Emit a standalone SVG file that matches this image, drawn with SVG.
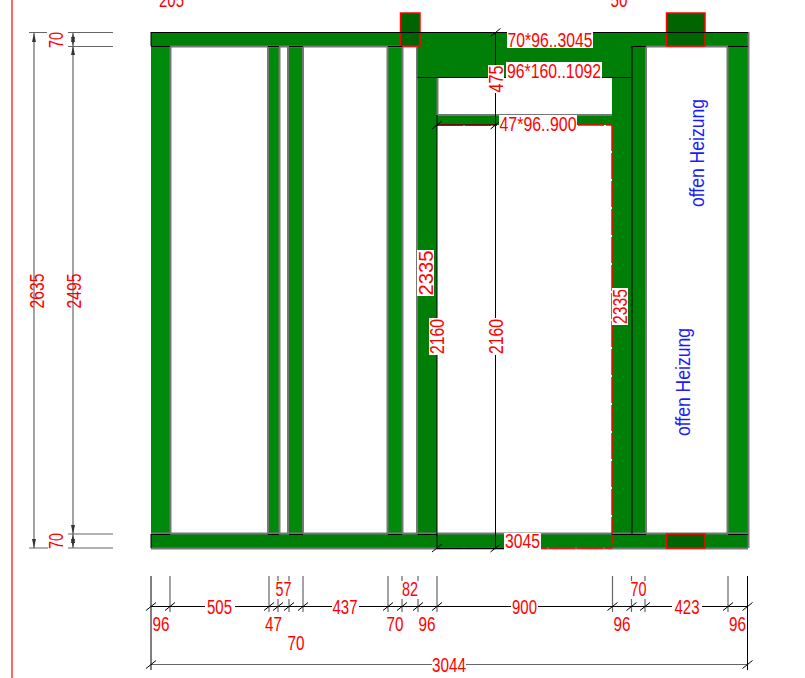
<svg xmlns="http://www.w3.org/2000/svg" width="805" height="678" viewBox="0 0 805 678">
<style>
text{font-family:"Liberation Sans",Arial,sans-serif;font-size:20px;fill:#f00;text-anchor:middle}
.b{fill:#1a1aff;font-size:20px}
.s{fill:#008a0c;stroke:none}
.p{fill:#007f08;stroke:none}
.d{fill:#006400;stroke:#f00;stroke-width:1.5}
.e{fill:none;stroke:#777;stroke-width:2}
.k{fill:none;stroke:#000;stroke-width:1}
.g{fill:none;stroke:#666;stroke-width:1.2}
.r{fill:none;stroke:#f00;stroke-width:1.5}
.w{fill:#fff;stroke:none}
</style>
<defs>
<path id="t" d="M-5 4L5-4" stroke="#000" stroke-width="1" fill="none"/>
<path id="up" d="M0 0L2 9H-2Z" fill="#333"/>
<path id="dn" d="M0 0L2-9H-2Z" fill="#333"/>
</defs>
<path class="r" d="M12 0V678" stroke-opacity="0.8"/>
<g id="studs">
<rect id="stud-1" class="s" x="151" y="46" width="19" height="488"/>
<rect id="stud-2" class="s" x="269" y="46" width="10" height="488"/>
<rect id="stud-3" class="s" x="289" y="46" width="13.500" height="488"/>
<rect id="stud-4" class="s" x="388" y="46" width="14" height="488"/>
<rect id="stud-5" class="p" x="418" y="46" width="19" height="488"/>
<rect id="stud-6" class="p" x="612" y="46" width="20" height="488"/>
<rect id="stud-7" class="p" x="632" y="46" width="13.500" height="488"/>
<rect id="stud-8" class="s" x="728" y="46" width="20" height="488"/>
<path class="e" d="M170.500 46V534M268 46V534M279.500 46V534M288 46V534M303 46V534M387.500 46V534M402.500 46V534M417 46V534M646 46V534M727.500 46V534M437.500 77V115"/>
</g>
<g id="plates">
<rect id="top-plate" class="p" x="151" y="32" width="597" height="14"/>
<rect id="lintel" class="p" x="417.500" y="46" width="214.500" height="31.500"/>
<rect id="header" class="p" x="437" y="115.500" width="175" height="9.500"/>
<rect id="bottom-plate" class="p" x="151" y="534" width="597" height="14"/>
<path class="e" d="M170 46.500H417M646 46.500H728M151 548.500H748M151 533.500H748M748.500 32V548M437 115H612"/>
</g>
<g id="blocks">
<rect id="block-1" class="d" x="400.500" y="13" width="19.500" height="33"/>
<rect id="block-2" class="d" x="666.500" y="13" width="38.500" height="33"/>
<rect id="block-3" class="d" x="666.500" y="534" width="38.500" height="14"/>
</g>
<g id="connectors">
<path class="r" d="M612 125V548M437 548H612M578 125H612M437 125H497" stroke-dasharray="26 2"/>
<path class="k" d="M151 32.500H748M151 32V46M151 46.500H170M268 46.500H279M289 46.500H303M388 46.500H402M632 46.500H646M728 46.500H748M417.500 77.500H632M632 46V534M437 115V549M437 125H497M495.500 32V548M437 548.500H504M151 534.500H170M268 534.500H279M289 534.500H303M388 534.500H402M417.500 534.500H437M612 534.500H646M728 534.500H748M151 534V548"/>
<path class="g" d="M29 32.500H47M29 548H48M68 32.500H113M68 46.500H113M68 534H113M68 548H113M34 32V548M73 32V548"/>
<path class="g" d="M170 576V612M269 576V612M303 576V612M388 576V612M437 576V612M612.500 576V612M728 576V612M151 664.500H748"/>
<path class="g" d="M278 576V581M278 599V612M289 576V581M289 599V612M402 576V581M402 599V612M418 576V581M418 599V612M631.500 576V581M631.500 599V612M645 576V581M645 599V612"/>
<path class="k" d="M151 576V670M747.500 576V670M151 606.500H748"/>
<use href="#up" x="34" y="33"/><use href="#dn" x="34" y="548"/>
<use href="#up" x="73" y="33"/><use href="#dn" x="73" y="46"/><use href="#up" x="73" y="46"/><use href="#dn" x="73" y="534"/><use href="#up" x="73" y="534"/><use href="#dn" x="73" y="548"/>
<use href="#t" x="151" y="606.500"/><use href="#t" x="170" y="606.500"/><use href="#t" x="269" y="606.500"/><use href="#t" x="278" y="606.500"/><use href="#t" x="289" y="606.500"/><use href="#t" x="303" y="606.500"/><use href="#t" x="388" y="606.500"/><use href="#t" x="402" y="606.500"/><use href="#t" x="418" y="606.500"/><use href="#t" x="437" y="606.500"/><use href="#t" x="612.500" y="606.500"/><use href="#t" x="631.500" y="606.500"/><use href="#t" x="645" y="606.500"/><use href="#t" x="728" y="606.500"/><use href="#t" x="747.500" y="606.500"/>
<use href="#t" x="151" y="664.500"/><use href="#t" x="747.500" y="664.500"/>
<use href="#t" x="495.500" y="32.500"/><use href="#t" x="495.500" y="125"/><use href="#t" x="437" y="125"/><use href="#t" x="437" y="548"/><use href="#t" x="495.500" y="548"/>
</g>
<g id="labels">
<rect class="w" x="507" y="32" width="86" height="16"/>
<rect class="w" x="506" y="62" width="96" height="17"/>
<rect class="w" x="488" y="65" width="16" height="28"/>
<rect class="w" x="499" y="115" width="78" height="17"/>
<rect class="w" x="504" y="533" width="37" height="17"/>
<rect class="w" x="417" y="250" width="17" height="46"/>
<rect class="w" x="612" y="288" width="16" height="37"/>
<rect class="w" x="429" y="318" width="16" height="37"/>
<rect class="w" x="488" y="318" width="16" height="37"/>
<rect class="w" x="205" y="598" width="30" height="16"/>
<rect class="w" x="332" y="598" width="27" height="16"/>
<rect class="w" x="511" y="598" width="27" height="16"/>
<rect class="w" x="672" y="598" width="30" height="16"/>
<rect class="w" x="432" y="656" width="34" height="16"/>
<text x="171.500" y="7" textLength="25" lengthAdjust="spacingAndGlyphs">205</text>
<text x="619" y="7" textLength="17" lengthAdjust="spacingAndGlyphs">50</text>
<text x="550" y="47" textLength="85" lengthAdjust="spacingAndGlyphs">70*96..3045</text>
<text x="554" y="78" textLength="94" lengthAdjust="spacingAndGlyphs">96*160..1092</text>
<text x="538" y="131" textLength="77" lengthAdjust="spacingAndGlyphs">47*96..900</text>
<text x="522.500" y="548" textLength="35" lengthAdjust="spacingAndGlyphs">3045</text>
<text transform="translate(503 79) rotate(-90)" textLength="27" lengthAdjust="spacingAndGlyphs">475</text>
<text transform="translate(433 273) rotate(-90)" textLength="45" lengthAdjust="spacingAndGlyphs">2335</text>
<text transform="translate(627 306.500) rotate(-90)" textLength="35" lengthAdjust="spacingAndGlyphs">2335</text>
<text transform="translate(444 336.500) rotate(-90)" textLength="35" lengthAdjust="spacingAndGlyphs">2160</text>
<text transform="translate(503 336.500) rotate(-90)" textLength="35" lengthAdjust="spacingAndGlyphs">2160</text>
<text transform="translate(63 40) rotate(-90)" textLength="16" lengthAdjust="spacingAndGlyphs">70</text>
<text transform="translate(63 541) rotate(-90)" textLength="16" lengthAdjust="spacingAndGlyphs">70</text>
<text transform="translate(44 291) rotate(-90)" textLength="35" lengthAdjust="spacingAndGlyphs">2635</text>
<text transform="translate(81 291) rotate(-90)" textLength="35" lengthAdjust="spacingAndGlyphs">2495</text>
<text x="283.500" y="596" textLength="16" lengthAdjust="spacingAndGlyphs">57</text>
<text x="410" y="596" textLength="16" lengthAdjust="spacingAndGlyphs">82</text>
<text x="638.500" y="596" textLength="16" lengthAdjust="spacingAndGlyphs">70</text>
<text x="219.500" y="614" textLength="25" lengthAdjust="spacingAndGlyphs">505</text>
<text x="345" y="614" textLength="25" lengthAdjust="spacingAndGlyphs">437</text>
<text x="524.500" y="614" textLength="25" lengthAdjust="spacingAndGlyphs">900</text>
<text x="687" y="614" textLength="25" lengthAdjust="spacingAndGlyphs">423</text>
<text x="161" y="631" textLength="17" lengthAdjust="spacingAndGlyphs">96</text>
<text x="273.500" y="631" textLength="17" lengthAdjust="spacingAndGlyphs">47</text>
<text x="395" y="631" textLength="17" lengthAdjust="spacingAndGlyphs">70</text>
<text x="427" y="631" textLength="17" lengthAdjust="spacingAndGlyphs">96</text>
<text x="622" y="631" textLength="17" lengthAdjust="spacingAndGlyphs">96</text>
<text x="737.500" y="631" textLength="17" lengthAdjust="spacingAndGlyphs">96</text>
<text x="296" y="650" textLength="17" lengthAdjust="spacingAndGlyphs">70</text>
<text x="449" y="672" textLength="34" lengthAdjust="spacingAndGlyphs">3044</text>
<text class="b" transform="translate(704 153) rotate(-90)" textLength="108" lengthAdjust="spacingAndGlyphs">offen Heizung</text>
<text class="b" transform="translate(690 382) rotate(-90)" textLength="108" lengthAdjust="spacingAndGlyphs">offen Heizung</text>
</g>
</svg>
